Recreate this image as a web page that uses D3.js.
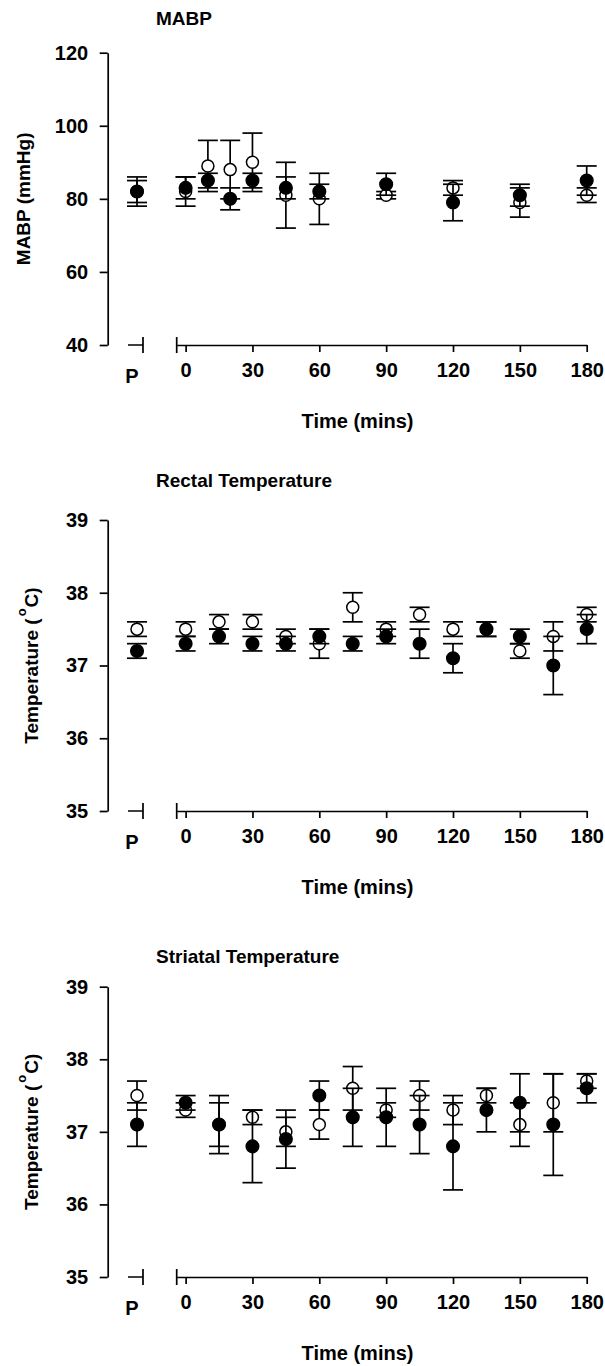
<!DOCTYPE html>
<html>
<head>
<meta charset="utf-8">
<script src="https://cdn.jsdelivr.net/npm/d3@7"></script>
<style>
  body { margin: 0; background: #fff; }
  svg { display: block; }
  text { font-family: "Liberation Sans", Arial, Helvetica, sans-serif; font-weight: bold; fill: #000; }
</style>
</head>
<body>
<div class="chart"></div>
<script>
// ---- data ----
// MABP, mmHg
const mabpTimes = ["P", 0, 10, 20, 30, 45, 60, 90, 120, 150, 180];
const mabpOpen = [82, 82, 89, 88, 90, 81, 80, 81, 83, 79, 81];
const mabpOpenSE = [3, 4, 7, 8, 8, 9, 7, 1, 2, 4, 2];
const mabpFilled = [82, 83, 85, 80, 85, 83, 82, 84, 79, 81, 85];
const mabpFilledSE = [4, 3, 2, 3, 2, 3, 2, 3, 5, 3, 4];

// temperatures are sampled every 15 min
const tempTimes = ["P", 0, 15, 30, 45, 60, 75, 90, 105, 120, 135, 150, 165, 180];

// rectal temperature, deg C
const rectalOpen = [37.5, 37.5, 37.6, 37.6, 37.4, 37.3, 37.8, 37.5, 37.7, 37.5, 37.5, 37.2, 37.4, 37.7];
const rectalOpenSE = [0.1, 0.1, 0.1, 0.1, 0.1, 0.2, 0.2, 0.1, 0.1, 0.1, 0.1, 0.1, 0.2, 0.1];
const rectalFilled = [37.2, 37.3, 37.4, 37.3, 37.3, 37.4, 37.3, 37.4, 37.3, 37.1, 37.5, 37.4, 37.0, 37.5];
const rectalFilledSE = [0.1, 0.1, 0.1, 0.1, 0.1, 0.1, 0.1, 0.1, 0.2, 0.2, 0.1, 0.1, 0.4, 0.2];

// striatal temperature, deg C
const striatalOpen = [37.5, 37.3, 37.1, 37.2, 37.0, 37.1, 37.6, 37.3, 37.5, 37.3, 37.5, 37.1, 37.4, 37.7];
const striatalOpenSE = [0.2, 0.1, 0.4, 0.1, 0.2, 0.2, 0.3, 0.1, 0.2, 0.2, 0.1, 0.3, 0.4, 0.1];
const striatalFilled = [37.1, 37.4, 37.1, 36.8, 36.9, 37.5, 37.2, 37.2, 37.1, 36.8, 37.3, 37.4, 37.1, 37.6];
const striatalFilledSE = [0.3, 0.1, 0.3, 0.5, 0.4, 0.2, 0.4, 0.4, 0.4, 0.6, 0.3, 0.4, 0.7, 0.2];

// axis ticks
const mabpTicks = [40, 60, 80, 100, 120];
const tempTicks = [35, 36, 37, 38, 39];
const timeTicks = [0, 30, 60, 90, 120, 150, 180];

// ---- layout ----
let width = 605;
let height = 1366;
let yAxisX = 107.7;
let capHalf = 10;
let lineW = 1.7;

let panels = [
  { title: "MABP", titleY: 25, yLabel: "MABP (mmHg)", labelX: 30, degree: false,
    domain: [40, 120], ticks: mabpTicks, top: 52.7, bottom: 345,
    times: mabpTimes, open: mabpOpen, openSE: mabpOpenSE, filled: mabpFilled, filledSE: mabpFilledSE },
  { title: "Rectal Temperature", titleY: 487, yLabel: "Temperature (", labelX: 38, degree: true,
    domain: [35, 39], ticks: tempTicks, top: 520, bottom: 811,
    times: tempTimes, open: rectalOpen, openSE: rectalOpenSE, filled: rectalFilled, filledSE: rectalFilledSE },
  { title: "Striatal Temperature", titleY: 963, yLabel: "Temperature (", labelX: 38, degree: true,
    domain: [35, 39], ticks: tempTicks, top: 986.7, bottom: 1277,
    times: tempTimes, open: striatalOpen, openSE: striatalOpenSE, filled: striatalFilled, filledSE: striatalFilledSE }
];

let svg = d3
  .select(".chart")
  .append("svg")
  .attr("width", width)
  .attr("height", height);

svg.append("rect").attr("width", width).attr("height", height).attr("fill", "#fff");

// time scale (main axis) and the separate pre-treatment "P" slot
let x = d3.scaleLinear().domain([-4, 180]).range([176.7, 586.7]);
let xP = d3.scalePoint().domain(["P"]).range([128, 146]);
let pAxisEnd = 143;
let pos = t => (t === "P" ? xP(t) : x(t));

let styleAxis = g => {
  g.attr("font-size", null).attr("font-family", null);
  g.selectAll("path, line").attr("stroke", "#000").attr("stroke-width", lineW);
  g.selectAll("text").style("font-size", "20px");
};

panels.forEach(p => {
  let y = d3.scaleLinear().domain(p.domain).range([p.bottom, p.top]);
  let g = svg.append("g");

  // title
  g.append("text")
    .attr("x", 156)
    .attr("y", p.titleY)
    .style("font-size", "19px")
    .text(p.title);

  // y axis
  g.append("g")
    .attr("transform", `translate(${yAxisX},0)`)
    .call(
      d3.axisLeft(y)
        .tickValues(p.ticks)
        .tickFormat(d3.format("d"))
        .tickSize(8)
        .tickSizeOuter(0)
        .tickPadding(11.5)
    )
    .call(styleAxis);

  // y axis title (rotated)
  let yt = g.append("text")
    .attr("transform", `translate(${p.labelX},${(p.top + p.bottom) / 2}) rotate(-90)`)
    .attr("text-anchor", "middle")
    .style("font-size", "19px")
    .text(p.yLabel);
  if (p.degree) {
    yt.append("tspan").attr("dx", 2).attr("dy", -12).style("font-size", "13px").text("o");
    yt.append("tspan").attr("dx", 1).attr("dy", 12).text("C)");
  }

  // x axis (time)
  g.append("g")
    .attr("transform", `translate(0,${p.bottom})`)
    .call(d3.axisBottom(x).tickValues(timeTicks).tickSize(7).tickSizeOuter(0).tickPadding(11))
    .call(styleAxis);

  // break mark at left end of the time axis
  g.append("line")
    .attr("x1", x(-4)).attr("x2", x(-4))
    .attr("y1", p.bottom - 8).attr("y2", p.bottom + 8)
    .attr("stroke", "#000").attr("stroke-width", lineW);

  // short "P" axis piece
  g.append("path")
    .attr("d", `M${xP.range()[0]},${p.bottom}H${pAxisEnd}M${pAxisEnd},${p.bottom - 8}V${p.bottom + 8}`)
    .attr("fill", "none")
    .attr("stroke", "#000").attr("stroke-width", lineW);
  g.append("text")
    .attr("x", xP("P") - 5)
    .attr("y", p.bottom + 38)
    .attr("text-anchor", "middle")
    .style("font-size", "20px")
    .text("P");

  // x axis title
  g.append("text")
    .attr("x", 357.5)
    .attr("y", p.bottom + 83)
    .attr("text-anchor", "middle")
    .style("font-size", "20px")
    .text("Time (mins)");

  // series: open first, filled drawn over it
  let series = [
    { vals: p.open, se: p.openSE, fill: "#fff", r: 6 },
    { vals: p.filled, se: p.filledSE, fill: "#000", r: 6.3 }
  ];

  series.forEach(s => {
    let rows = p.times.map((t, i) => ({ t: t, v: s.vals[i], e: s.se[i] }));
    let sg = g.append("g");

    let bars = sg.selectAll("g.err")
      .data(rows)
      .enter()
      .append("g")
      .attr("class", "err")
      .attr("stroke", "#000")
      .attr("stroke-width", lineW);

    bars.append("line")
      .attr("x1", d => pos(d.t)).attr("x2", d => pos(d.t))
      .attr("y1", d => y(d.v - d.e)).attr("y2", d => y(d.v + d.e));
    bars.append("line")
      .attr("x1", d => pos(d.t) - capHalf).attr("x2", d => pos(d.t) + capHalf)
      .attr("y1", d => y(d.v + d.e)).attr("y2", d => y(d.v + d.e));
    bars.append("line")
      .attr("x1", d => pos(d.t) - capHalf).attr("x2", d => pos(d.t) + capHalf)
      .attr("y1", d => y(d.v - d.e)).attr("y2", d => y(d.v - d.e));

    sg.selectAll("circle")
      .data(rows)
      .enter()
      .append("circle")
      .attr("cx", d => pos(d.t))
      .attr("cy", d => y(d.v))
      .attr("r", s.r)
      .attr("fill", s.fill)
      .attr("stroke", "#000")
      .attr("stroke-width", 1.5);
  });
});
</script>
</body>
</html>
